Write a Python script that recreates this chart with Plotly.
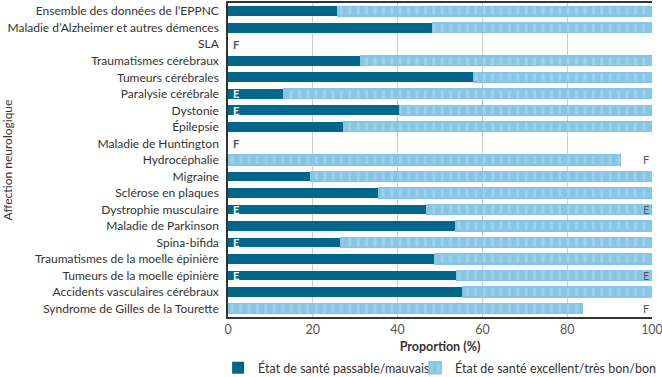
import plotly.graph_objects as go

categories = [
    "Ensemble des données de l’EPPNC",
    "Maladie d’Alzheimer et autres démences",
    "SLA",
    "Traumatismes cérébraux",
    "Tumeurs cérébrales",
    "Paralysie cérébrale",
    "Dystonie",
    "Épilepsie",
    "Maladie de Huntington",
    "Hydrocéphalie",
    "Migraine",
    "Sclérose en plaques",
    "Dystrophie musculaire",
    "Maladie de Parkinson",
    "Spina-bifida",
    "Traumatismes de la moelle épinière",
    "Tumeurs de la moelle épinière",
    "Accidents vasculaires cérébraux",
    "Syndrome de Gilles de la Tourette",
]

poor = [25.8, 48.2, None, 31.4, 58.0, 13.2, 40.4, 27.4, None, None,
        19.4, 35.5, 46.8, 53.7, 26.7, 48.7, 53.9, 55.3, None]
good = [74.2, 51.8, None, 68.6, 42.0, 86.8, 59.6, 72.6, None, 92.6,
        80.6, 64.5, 53.2, 46.3, 73.3, 51.3, 46.1, 44.7, 83.6]

flag_left = ["", "", "F", "", "", "E", "E", "", "F", "",
             "", "", "E", "", "E", "", "E", "", ""]
flag_right = ["", "", "", "", "", "", "", "", "", "F",
              "", "", "E", "", "", "", "E", "", "F"]

x_ticks = [0, 20, 40, 60, 80, 100]

DARK = "#00678A"
LIGHT = "#86C5E3"
STRIPE = "#B4DBEF"
FONT = "Lato"

fig = go.Figure()
fig.add_trace(go.Bar(
    y=categories, x=poor, orientation="h",
    name="État de santé passable/mauvais",
    marker=dict(color=DARK, line=dict(width=0)),
    legend="legend",
))
fig.add_trace(go.Bar(
    y=categories, x=good, orientation="h",
    name="État de santé excellent/très bon/bon",
    marker=dict(color=LIGHT, line=dict(width=1.5, color=LIGHT),
                pattern=dict(shape="|", fgcolor=STRIPE, bgcolor=LIGHT,
                             size=8.4, solidity=0.35)),
    legend="legend2",
))

annotations = []
for cat, fl, p in zip(categories, flag_left, poor):
    if fl:
        col = "white" if fl == "E" and p else "#555555"
        annotations.append(dict(x=0, y=cat, xref="x", yref="y", text="<b>" + fl + "</b>",
                                showarrow=False, xanchor="left", xshift=3,
                                font=dict(family=FONT, size=11, color=col)))
for cat, fr in zip(categories, flag_right):
    if fr:
        annotations.append(dict(x=100, y=cat, xref="x", yref="y", text=fr,
                                showarrow=False, xanchor="right", xshift=-1,
                                font=dict(family=FONT, size=11, color="#555555")))

legend_common = dict(orientation="h", xanchor="left", y=-0.115, yanchor="top",
                     font=dict(family=FONT, size=12.5, color="#333333"),
                     itemwidth=30, bgcolor="rgba(0,0,0,0)")

fig.update_layout(
    barmode="stack",
    bargap=0.41,
    width=662, height=377,
    margin=dict(l=228, r=10, t=3, b=60, autoexpand=False),
    paper_bgcolor="white", plot_bgcolor="white",
    font=dict(family=FONT, size=12, color="#333333"),
    showlegend=True,
    legend=dict(x=-0.0233, **legend_common),
    legend2=dict(x=0.4413, **legend_common),
    annotations=annotations,
    xaxis=dict(range=[0, 100], tickvals=x_ticks, ticktext=[str(v) for v in x_ticks],
               automargin=False, ticklabeloverflow="allow",
               showgrid=True, gridcolor="#CCCCCC", gridwidth=1,
               showline=True, linecolor="#333333", linewidth=1.5, mirror=True,
               zeroline=False, ticks="",
               tickfont=dict(family=FONT, size=12.5, color="#555555"),
               title=dict(text="<b>Proportion (%)</b>", standoff=6,
                          font=dict(family=FONT, size=12.5, color="#333333"))),
    yaxis=dict(autorange="reversed", categoryorder="array", categoryarray=categories,
               automargin=False,
               showline=True, linecolor="#333333", linewidth=1.5,
               showgrid=False, ticks="", ticklabelstandoff=5,
               tickfont=dict(family=FONT, size=12, color="#333333"),
               title=dict(text="Affection neurologique", standoff=20,
                          font=dict(family=FONT, size=12, color="#333333"))),
)

fig.write_html("out.html", config={"displayModeBar": False},
               post_script="document.body.style.margin='0';document.body.style.padding='0';")
